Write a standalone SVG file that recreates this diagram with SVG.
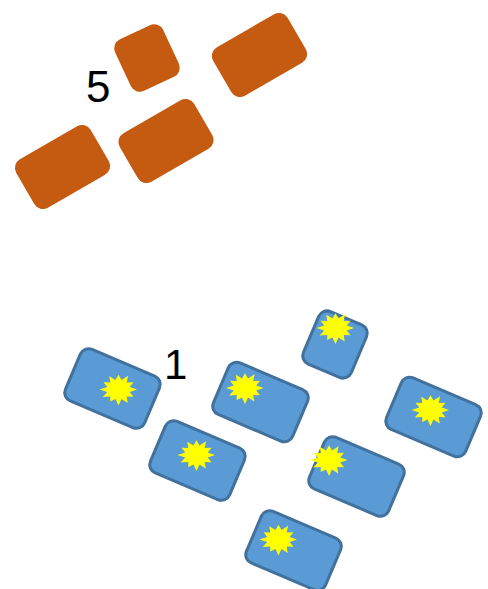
<svg xmlns="http://www.w3.org/2000/svg" width="488" height="589" viewBox="0 0 488 589">
<style>
.o{fill:#C55A11}
.b{fill:#5B9BD5;stroke:#41719C;stroke-width:3}
.s{fill:#FFFF00}
.t{font-family:"Liberation Sans",Arial,sans-serif;fill:#000}
</style>
<defs>
<path id="star" d="M18.5,0 L11.2,2.5 L15,7.3 L8.2,6.9 L9.2,13.4 L3,9.4 L0,16 L-3,9.4 L-8.3,12 L-8.2,6.9 L-15.8,7.6 L-11.2,2.5 L-19,0 L-11.2,-2.5 L-15,-7.3 L-8.2,-6.9 L-9.2,-13.2 L-3,-9.4 L0,-14.8 L3,-9.4 L9.6,-13.8 L8.2,-6.9 L15,-7.3 L11.2,-2.5 Z"/>
</defs>
<g id="label5"><text class="t" x="86" y="102" font-size="44">5</text></g>
<g id="o1"><rect class="o" x="-26.5" y="-28.5" width="53" height="57" rx="10" transform="translate(147,58) rotate(-25)"/></g>
<g id="o2"><rect class="o" x="-43" y="-28" width="86" height="56" rx="10" transform="translate(259.5,55) rotate(-30)"/></g>
<g id="o3"><rect class="o" x="-43" y="-28" width="86" height="56" rx="10" transform="translate(62.5,167) rotate(-30)"/></g>
<g id="o4"><rect class="o" x="-43" y="-28" width="86" height="56" rx="10" transform="translate(166,141) rotate(-30)"/></g>
<g id="label1"><text class="t" x="164" y="379" font-size="42">1</text></g>
<g id="bA"><rect class="b" x="-43" y="-28" width="86" height="56" rx="9" transform="translate(112.5,388.5) rotate(23)"/><use href="#star" class="s" x="118.5" y="389.5"/></g>
<g id="bB"><rect class="b" x="-43" y="-28" width="86" height="56" rx="9" transform="translate(260.5,402) rotate(23)"/><use href="#star" class="s" x="245" y="388"/></g>
<g id="bC"><rect class="b" x="-26" y="-28.5" width="52" height="57" rx="9" transform="translate(335,344.5) rotate(23)"/><use href="#star" class="s" x="335.5" y="328"/></g>
<g id="bD"><rect class="b" x="-43" y="-28" width="86" height="56" rx="9" transform="translate(433.5,417) rotate(23)"/><use href="#star" class="s" x="430.5" y="410"/></g>
<g id="bE"><rect class="b" x="-43" y="-28" width="86" height="56" rx="9" transform="translate(197.5,460.5) rotate(23)"/><use href="#star" class="s" x="196.5" y="455"/></g>
<g id="bF"><rect class="b" x="-43" y="-28" width="86" height="56" rx="9" transform="translate(356.5,476.5) rotate(23)"/><use href="#star" class="s" x="329" y="460"/></g>
<g id="bG"><rect class="b" x="-43" y="-28" width="86" height="56" rx="9" transform="translate(293.5,550.5) rotate(23)"/><use href="#star" class="s" x="278.5" y="539.5"/></g>
</svg>
